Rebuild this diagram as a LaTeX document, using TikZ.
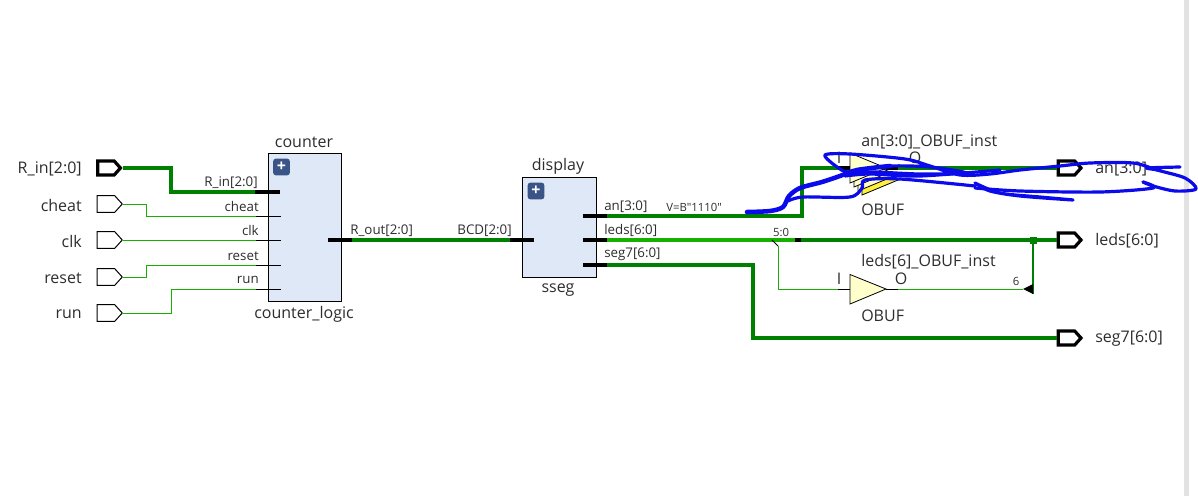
\documentclass[tikz,border=0pt]{standalone}
\usepackage{fontspec}
\setmainfont{Open Sans}[Ligatures=TeXOff]
\usetikzlibrary{shapes.symbols,shapes.geometric}
\definecolor{dkgreen}{RGB}{0,128,0}
\definecolor{ltgreen}{RGB}{24,176,0}
\definecolor{blockfill}{RGB}{222,232,247}
\definecolor{plusfill}{RGB}{58,84,136}
\definecolor{buffill}{RGB}{255,255,204}
\definecolor{bufyellow}{RGB}{255,240,60}
\definecolor{txt}{RGB}{45,45,45}
\definecolor{scribble}{RGB}{10,10,235}
\definecolor{scrollbar}{RGB}{226,226,226}
\tikzset{
  x=0.75pt,y=-0.75pt,
  lbl/.style={inner sep=0pt,yshift=-0.75pt,text=txt,font=\fontsize{12pt}{14pt}\selectfont},
  pinlbl/.style={inner sep=0pt,yshift=-0.5pt,text=txt,font=\fontsize{10pt}{12pt}\selectfont},
  smalllbl/.style={inner sep=0pt,text=txt,font=\fontsize{8.5pt}{10pt}\selectfont},
  portshape/.style={shape=signal,signal to=east,signal pointer angle=96,draw=black,fill=white,inner sep=0pt,
     minimum width=18.75pt,minimum height=12.4pt},
  inport/.style={portshape,line width=0.75pt},
  busport/.style={portshape,line width=2.4pt,minimum width=17pt,minimum height=10.5pt},
  block/.style={draw=black,fill=blockfill,line width=0.75pt,inner sep=0pt},
  plusbtn/.style={fill=plusfill,rounded corners=2pt,inner sep=0pt,minimum size=12.5pt,text=white,
     font=\bfseries\fontsize{12pt}{12pt}\selectfont},
  buswire/.style={draw=dkgreen,line width=2.3pt,line join=miter},
  lightbus/.style={draw=ltgreen,line width=2.3pt},
  sigwire/.style={draw=ltgreen,line width=0.72pt},
  buspin/.style={draw=black,line width=2.6pt},
  sigpin/.style={draw=black,line width=0.72pt},
  bufshape/.style={draw=black,line width=0.6pt,fill=buffill},
  scrib/.style={draw=scribble,line cap=round,line join=round},
}
\begin{document}
\begin{tikzpicture}
\useasboundingbox (0,0) rectangle (1198,496);
\fill[scrollbar] (1184,0) rectangle (1189,496);

% blocks
\node[block,minimum width=54.75pt,minimum height=111pt] (counter) at (304.5,227) {};
\node[block,minimum width=55.5pt,minimum height=75pt] (display) at (559,227) {};
\node[plusbtn] (cplus) at (281.5,167) {+};
\node[plusbtn] (dplus) at (536,191) {+};
\node[lbl] (counterT) at (304,141) {counter};
\node[lbl] (counterB) at (304,313) {counter\_logic};
\node[lbl] (displayT) at (558,165) {display};
\node[lbl] (displayB) at (558,289) {sseg};

% named pin points
\coordinate (cRinL) at (255,192); \coordinate (cRinR) at (280,192);
\coordinate (cCheatL) at (256,216); \coordinate (cCheatR) at (281,216);
\coordinate (cClkL) at (256,240); \coordinate (cClkR) at (281,240);
\coordinate (cResetL) at (256,265); \coordinate (cResetR) at (281,265);
\coordinate (cRunL) at (256,289); \coordinate (cRunR) at (281,289);
\coordinate (cOutL) at (328,240); \coordinate (cOutR) at (352,240);
\coordinate (dInL) at (510,240); \coordinate (dInR) at (534,240);
\coordinate (dAnL) at (583,216); \coordinate (dAnR) at (607,216);
\coordinate (dLedL) at (583,240); \coordinate (dLedR) at (607,240);
\coordinate (dSegL) at (583,265); \coordinate (dSegR) at (607,265);

% ports
\node[busport] (pRin) at (106,168) {};
\node[inport] (pCheat) at (106,204) {};
\node[inport] (pClk) at (106,240) {};
\node[inport] (pReset) at (106,277) {};
\node[inport] (pRun) at (106,313) {};
\node[busport] (pAn) at (1066.5,168) {};
\node[busport] (pLeds) at (1066.5,240) {};
\node[busport] (pSeg) at (1066.5,338) {};

% wires on the left
\draw[buswire] (pRin.east) -| (171,192) -- (cRinL);
\draw[sigwire] (pCheat.east) -| (146,216) -- (cCheatL);
\draw[sigwire] (pClk.east) -- (cClkL);
\draw[sigwire] (pReset.east) -| (146,265) -- (cResetL);
\draw[sigwire] (pRun.east) -| (171,289) -- (cRunL);
\draw[buswire] (cOutR) -- (dInL);

% wires on the right
\coordinate (anBend) at (802,216);
\coordinate (bufATip) at (838,168);
\draw[buswire] (dAnR) -- (anBend) |- (pAn.west);
\coordinate (split) at (795,240);
\coordinate (splitEnd) at (801,240);
\coordinate (tapA) at (772,240);
\coordinate (tapB) at (778,246);
\coordinate (dotP) at (1033,240);
\draw[lightbus] (dLedR) -- (split);
\draw[buswire] (splitEnd) -- (pLeds.west);
\draw[draw=black,line width=2.3pt] (split) -- (splitEnd);
\draw[buswire] (dSegR) -| (753,338) -- (pSeg.west);

% lower buffer
\coordinate (bufIa) at (838,289); \coordinate (bufIb) at (850,289);
\coordinate (bufOa) at (886,289); \coordinate (bufOb) at (898,289);
\coordinate (tipP) at (1023,289);
\draw[sigwire] (tapB) |- (bufIa);
\draw[draw=black,line width=0.6pt] (tapA) -- (tapB);
\draw[sigpin] (bufIa) -- (bufIb);
\draw[bufshape] (850,274.5) -- (bufOa) -- (850,304) -- cycle;
\draw[sigpin] (bufOa) -- (bufOb);
\draw[sigwire] (bufOb) -- (tipP);
\draw[draw=dkgreen,line width=2pt] (dotP) -- (1033,294);
\fill[black] (tipP) -- (1033,284) -- (1033,294) -- cycle;
\fill[dkgreen] (1029.5,236.5) rectangle (1036.5,243.5);

% pins
\draw[buspin] (cRinL) -- (cRinR);
\draw[sigpin] (cCheatL) -- (cCheatR);
\draw[sigpin] (cClkL) -- (cClkR);
\draw[sigpin] (cResetL) -- (cResetR);
\draw[sigpin] (cRunL) -- (cRunR);
\draw[buspin] (cOutL) -- (cOutR);
\draw[buspin] (dInL) -- (dInR);
\draw[buspin] (dAnL) -- (dAnR);
\draw[buspin] (dLedL) -- (dLedR);
\draw[buspin] (dSegL) -- (dSegR);

% upper stacked buffer
\draw[bufshape,fill=bufyellow] (862,165) -- (898,180) -- (862,195) -- cycle;
\draw[bufshape] (858,161) -- (894,176) -- (858,191) -- cycle;
\draw[bufshape] (854,157) -- (890,172) -- (854,187) -- cycle;
\draw[bufshape] (850,153) -- (886,168) -- (850,183) -- cycle;
\draw[buspin] (bufATip) -- (850,168);
\draw[buspin] (886,168) -- (898,168);

% labels
\node[lbl,anchor=east] (lRin) at (82,168) {R\_in[2:0]};
\node[lbl,anchor=east] (lCheat) at (82,204) {cheat};
\node[lbl,anchor=east] (lClk) at (82,240) {clk};
\node[lbl,anchor=east] (lReset) at (82,277) {reset};
\node[lbl,anchor=east] (lRun) at (82,313) {run};
\node[pinlbl,anchor=east] (cl1) at (258,182) {R\_in[2:0]};
\node[pinlbl,anchor=east] (cl2) at (259,206) {cheat};
\node[pinlbl,anchor=east] (cl3) at (259,230) {clk};
\node[pinlbl,anchor=east] (cl4) at (259,255) {reset};
\node[pinlbl,anchor=east] (cl5) at (259,279) {run};
\node[pinlbl,anchor=west] (cl6) at (350,230) {R\_out[2:0]};
\node[pinlbl,anchor=east] (dl1) at (512,230) {BCD[2:0]};
\node[pinlbl,anchor=west] (dl2) at (604,206) {an[3:0]};
\node[pinlbl,anchor=west] (dl3) at (604,230) {leds[6:0]};
\node[pinlbl,anchor=west] (dl4) at (604,254) {seg7[6:0]};
\node[smalllbl,anchor=west] (vb) at (666,207) {V=B"1110"};
\node[smalllbl] (s50) at (781,232) {5:0};
\node[smalllbl] (s6) at (1016,281) {6};
\node[lbl,anchor=west] (aInst) at (861,141) {an[3:0]\_OBUF\_inst};
\node[lbl,anchor=west] (aType) at (861,209) {OBUF};
\node[lbl] (aI) at (839,157) {I};
\node[lbl] (aO) at (915,157) {O};
\node[lbl,anchor=west] (lInst) at (861,261) {leds[6]\_OBUF\_inst};
\node[lbl,anchor=west] (lType) at (861,315) {OBUF};
\node[lbl] (lI) at (839,278) {I};
\node[lbl] (lO) at (901,278) {O};
\node[lbl,anchor=west] (rAn) at (1095,168) {an[3:0]};
\node[lbl,anchor=west] (rLeds) at (1095,240) {leds[6:0]};
\node[lbl,anchor=west] (rSeg) at (1095,338) {seg7[6:0]};

% scribble
\draw[scrib,line width=3.4pt] plot[smooth,tension=0.5] coordinates {(747,212) (770,211) (783,207) (789,196) (800,188) (822,182) (840,176) (857,170) (890,166)};
\draw[scrib,line width=2.4pt] plot[smooth,tension=0.5] coordinates {(857,170) (890,166) (930,167) (966,173) (920,174) (875,172) (848,172) (837,167) (825,155) (850,154) (905,159) (930,166) (960,175) (990,174) (1020,170) (1060,166) (1090,163) (1133,163) (1157,170) (1185,178) (1196,189) (1175,191) (1153,186) (1143,182)};
\draw[scrib,line width=2.4pt] plot[smooth,tension=0.5] coordinates {(1143,182) (1153,188) (1100,192) (1020,191) (975,188)};
\draw[scrib,line width=2.4pt] plot[smooth,tension=0.5] coordinates {(975,183) (990,191) (1020,196) (1073,200) (1040,197) (1000,193) (975,183)};
\draw[scrib,line width=2.4pt] plot[smooth,tension=0.5] coordinates {(1180,167) (1147,168) (1160,170)};
\draw[scrib,line width=2.4pt] plot[smooth,tension=0.5] coordinates {(788,201) (803,197) (850,197) (862,188) (865,180) (900,179) (975,186)};
\draw[scrib,line width=2.4pt] plot[smooth,tension=0.5] coordinates {(845,176) (870,174) (920,176) (1000,170)};
\end{tikzpicture}
\end{document}
